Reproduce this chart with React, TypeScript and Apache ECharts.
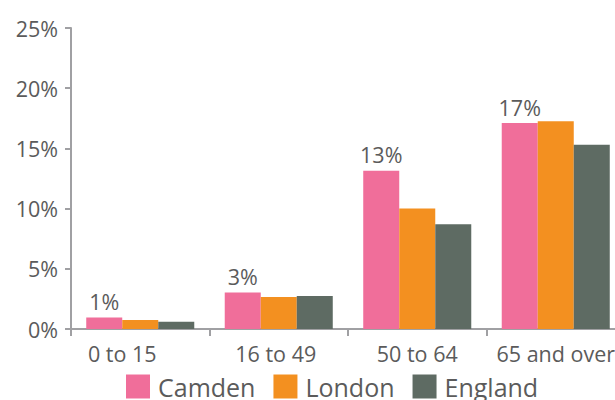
import React, { useEffect, useRef } from "react";
import * as echarts from "echarts";

const categories = ["0 to 15", "16 to 49", "50 to 64", "65 and over"];
const camden = [0.95, 3.03, 13.15, 17.1];
const london = [0.75, 2.65, 10.0, 17.25];
const england = [0.6, 2.75, 8.7, 15.3];
const camdenLabels = ["1%", "3%", "13%", "17%"];
const yTicks = { min: 0, max: 25, interval: 5 };

const FONT = "Open Sans";
const TEXT = "#5b5b5b";
const AXIS = "#a0a0a3";
const FS = 21.5;

export default function App() {
  const ref = useRef<HTMLDivElement>(null);
  useEffect(() => {
    const chart = echarts.init(ref.current!, null, { renderer: "svg" });
    chart.setOption({
      animation: false,
      textStyle: { fontFamily: FONT, color: TEXT },
      grid: { left: 71, top: 28, bottom: 71, right: -10, containLabel: false, outerBoundsMode: "none" },
      legend: {
        left: 126,
        top: 374,
        padding: 0,
        itemWidth: 24,
        itemHeight: 24,
        itemGap: 18,
        icon: "rect",
        textStyle: { fontFamily: FONT, fontSize: 25, color: TEXT, padding: [0, 0, 0, 3] },
        data: ["Camden", "London", "England"],
      },
      xAxis: {
        type: "category",
        data: categories,
        axisLine: { lineStyle: { color: AXIS, width: 2 } },
        axisTick: { show: true, length: 7, lineStyle: { color: AXIS, width: 2 }, alignWithLabel: false },
        axisLabel: {
          fontFamily: FONT,
          fontSize: FS,
          color: TEXT,
          margin: 13,
          interval: 0,
          formatter: (v: string, i: number) => (i === 0 ? "{a|" + v + "}" : i === 1 ? "{b|" + v + "}" : v),
          rich: {
            a: { fontFamily: FONT, fontSize: FS, color: TEXT, padding: [0, 36, 0, 0] },
            b: { fontFamily: FONT, fontSize: FS, color: TEXT, padding: [0, 6, 0, 0] },
          },
        },
      },
      yAxis: {
        type: "value",
        min: yTicks.min,
        max: yTicks.max,
        interval: yTicks.interval,
        splitLine: { show: false },
        axisLine: { show: true, lineStyle: { color: AXIS, width: 2 } },
        axisTick: { show: true, length: 6, lineStyle: { color: AXIS, width: 2 } },
        axisLabel: { fontFamily: FONT, fontSize: FS, color: TEXT, margin: 13, formatter: "{value}%" },
      },
      series: [
        {
          name: "Camden",
          type: "bar",
          data: camden,
          barGap: "0%",
          barCategoryGap: "22%",
          itemStyle: { color: "#f06e9a" },
          label: {
            show: true,
            position: "top",
            distance: 5,
            fontFamily: FONT,
            fontSize: FS,
            color: TEXT,
            formatter: (p: any) => camdenLabels[p.dataIndex],
          },
        },
        { name: "London", type: "bar", data: london, itemStyle: { color: "#f39020" } },
        { name: "England", type: "bar", data: england, itemStyle: { color: "#5e6b63" } },
      ],
    });
    return () => chart.dispose();
  }, []);
  return <div ref={ref} style={{ width: 615, height: 400, position: "absolute", left: 0, top: 0 }} />;
}
